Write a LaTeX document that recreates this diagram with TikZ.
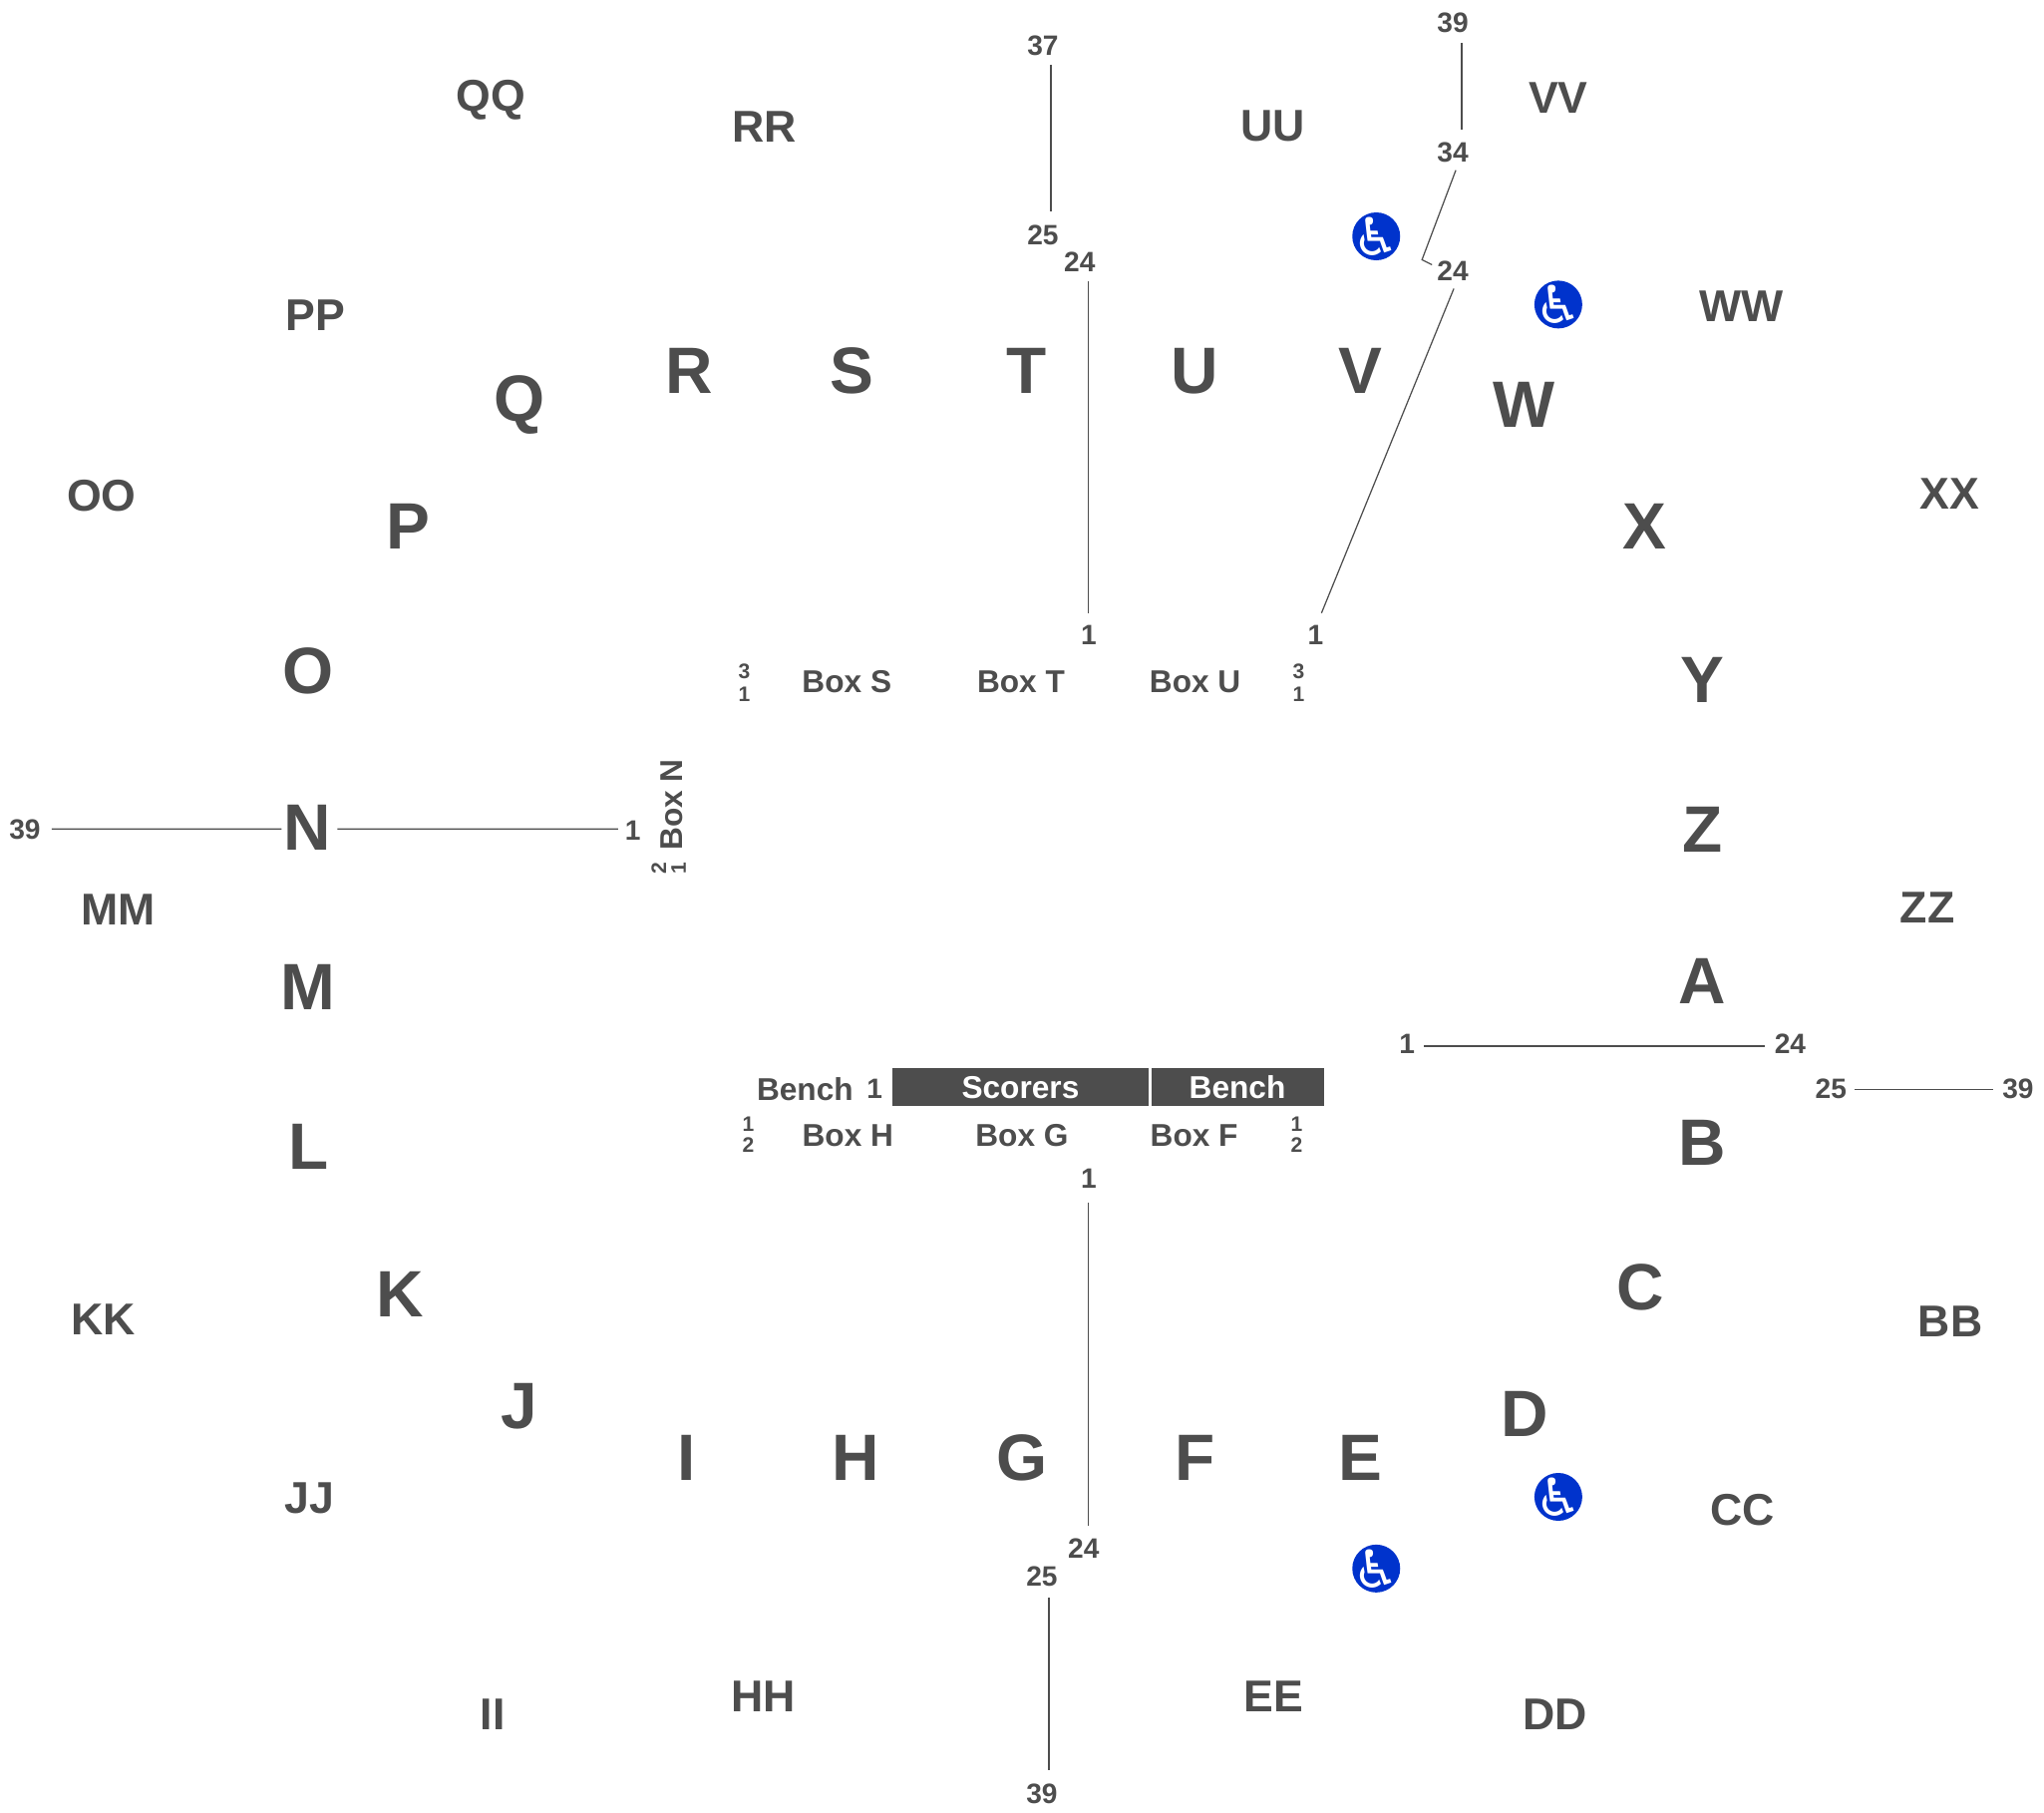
\documentclass[tikz,border=0pt]{standalone}
\usepackage{fontspec}
\setmainfont{Liberation Sans}
\newfontfamily\wheelfont{DejaVu Sans}
\definecolor{seatgrey}{HTML}{4D4D4D}
\definecolor{accessblue}{HTML}{0033CC}
\usetikzlibrary{calc}

\begin{document}
\begin{tikzpicture}[x=0.00998cm, y=-0.00998cm, every node/.style={inner sep=0pt, text=seatgrey, font=\bfseries},
    lower/.style={xshift=0.3pt, yshift=0.6pt, font=\fontsize{18.7}{19}\selectfont\bfseries},
    upper/.style={font=\fontsize{12.7}{13}\selectfont\bfseries},
    boxname/.style={font=\fontsize{9}{9}\selectfont\bfseries},
    rownum/.style={font=\fontsize{8}{8}\selectfont\bfseries},
    boxnum/.style={font=\fontsize{6}{6}\selectfont\bfseries},
    tablebar/.style={fill=seatgrey, text=white, font=\fontsize{9}{9}\selectfont\bfseries, anchor=center},
    rowline/.style={draw=seatgrey, line width=0.35pt}]

\useasboundingbox (0,0) rectangle (2054.1,1821.6);

%access marker
\newcommand{\accessmarker}[3]{
        \node[circle, fill=accessblue, minimum size=48*0.2845pt] (#1) at (#2,#3) {};
        \node[text=white, font=\fontsize{15}{15}\selectfont\wheelfont] at (#1) {\char"267F};
}

%lower bowl
\node[lower] (R) at (692,375) {R};
\node[lower] (S) at (855,375) {S};
\node[lower] (T) at (1031,375) {T};
\node[lower] (U) at (1200,375) {U};
\node[lower] (V) at (1366,375) {V};
\node[lower] (W) at (1530,409) {W};
\node[lower] (X) at (1652,531) {X};
\node[lower] (Y) at (1710,685) {Y};
\node[lower] (Z) at (1710,836) {Z};
\node[lower] (A) at (1710,988) {A};
\node[lower] (B) at (1710,1150) {B};
\node[lower] (C) at (1647,1296) {C};
\node[lower] (D) at (1531,1423) {D};
\node[lower] (E) at (1366,1467) {E};
\node[lower] (F) at (1200,1467) {F};
\node[lower] (G) at (1026,1467) {G};
\node[lower] (H) at (859,1467) {H};
\node[lower] (I) at (689,1467) {I};
\node[lower] (J) at (521,1415) {J};
\node[lower] (K) at (401,1303) {K};
\node[lower] (L) at (309,1154) {L};
\node[lower] (M) at (308,994) {M};
\node[lower] (N) at (308,834) {N};
\node[lower] (O) at (309,676) {O};
\node[lower] (P) at (409,531) {P};
\node[lower] (Q) at (521,409) {Q};

%upper bowl
\node[upper] (QQ) at (493,101) {QQ};
\node[upper] (RR) at (768,127) {RR};
\node[upper] (UU) at (1279,127) {UU};
\node[upper] (VV) at (1566,98) {VV};
\node[upper] (WW) at (1750,308) {WW};
\node[upper] (XX) at (1959,496) {XX};
\node[upper] (ZZ) at (1937,912) {ZZ};
\node[upper] (BB) at (1960,1328) {BB};
\node[upper] (CC) at (1751,1517) {CC};
\node[upper] (DD) at (1563,1723) {DD};
\node[upper] (EE) at (1280,1705) {EE};
\node[upper] (HH) at (767,1705) {HH};
\node[upper] (II) at (495,1723) {II};
\node[upper] (JJ) at (311,1505) {JJ};
\node[upper] (KK) at (104,1326) {KK};
\node[upper] (MM) at (119,914) {MM};
\node[upper] (OO) at (102,498) {OO};
\node[upper] (PP) at (317,317) {PP};

%boxes
\node[boxname] (boxS) at (851,685) {Box S};
\node[boxname] (boxT) at (1026,685) {Box T};
\node[boxname] (boxU) at (1201,685) {Box U};
\node[boxname] (boxH) at (852,1141) {Box H};
\node[boxname] (boxG) at (1027,1141) {Box G};
\node[boxname] (boxF) at (1200,1141) {Box F};
\node[boxname, rotate=90] (boxN) at (675,808.5) {Box N};
\node[boxname] (benchH) at (809,1094) {Bench};
\node[tablebar, minimum width=257*0.2845pt, minimum height=38*0.2845pt] (scorers) at (1025.5,1092.5) {Scorers};
\node[tablebar, minimum width=173*0.2845pt, minimum height=38*0.2845pt] (benchF) at (1243.5,1092.5) {Bench};

%box rows
\node[boxnum] (boxSa) at (748,675) {3};
\node[boxnum] (boxSb) at (748,698) {1};
\node[boxnum] (boxUa) at (1305,675) {3};
\node[boxnum] (boxUb) at (1305,698) {1};
\node[boxnum] (boxHa) at (752,1129) {1};
\node[boxnum] (boxHb) at (752,1150) {2};
\node[boxnum] (boxFa) at (1303,1129) {1};
\node[boxnum] (boxFb) at (1303,1150) {2};
\node[boxnum, rotate=90] (boxNa) at (662,872) {2};
\node[boxnum, rotate=90] (boxNb) at (682,872) {1};
\node[rownum] (benchOne) at (879,1094) {1};

%row numbers
\node[rownum] (t37) at (1048,46) {37};
\node[rownum] (t25) at (1048,236) {25};
\node[rownum] (t24) at (1085,263) {24};
\node[rownum] (t1) at (1094,638) {1};
\node[rownum] (v1) at (1322,638) {1};
\node[rownum] (v39) at (1460,23) {39};
\node[rownum] (v34) at (1460,153) {34};
\node[rownum] (v24) at (1460,272) {24};
\node[rownum] (n39) at (25,834) {39};
\node[rownum] (n1) at (636,834) {1};
\node[rownum] (a1) at (1414,1049) {1};
\node[rownum] (a24) at (1799,1049) {24};
\node[rownum] (a25) at (1840,1094) {25};
\node[rownum] (a39) at (2028,1094) {39};
\node[rownum] (g1) at (1094,1184) {1};
\node[rownum] (g24) at (1089,1556) {24};
\node[rownum] (g25) at (1047,1584) {25};
\node[rownum] (g39) at (1047,1802) {39};
\coordinate (vbend) at (1429,261);

%row lines
\draw[rowline] ([shift={(8,19)}]t37.center) -- ([shift={(8,-24)}]t25.center);
\draw[rowline] ([shift={(9,20)}]t24.center) -- ([shift={(0,-22)}]t1.center);
\draw[rowline] ([shift={(9,20)}]v39.center) -- ([shift={(9,-23)}]v34.center);
\draw[rowline] ([shift={(3,18)}]v34.center) -- (vbend) -- ([shift={(-21,-6)}]v24.center);
\draw[rowline] ([shift={(1,18)}]v24.center) -- ([shift={(6,-22)}]v1.center);
\draw[rowline] ([shift={(27,-1)}]n39.center) -- ([shift={(-26,1)}]N.center);
\draw[rowline] ([shift={(30,1)}]N.center) -- ([shift={(-15,-1)}]n1.center);
\draw[rowline] ([shift={(17,2)}]a1.center) -- ([shift={(-25,2)}]a24.center);
\draw[rowline] ([shift={(24,1)}]a25.center) -- ([shift={(-25,1)}]a39.center);
\draw[rowline] ([shift={(0,24)}]g1.center) -- ([shift={(5,-23)}]g24.center);
\draw[rowline] ([shift={(7,21)}]g25.center) -- ([shift={(7,-23)}]g39.center);

%access places
\accessmarker{wcV}{1383}{237.5}
\accessmarker{wcW}{1566}{306}
\accessmarker{wcD}{1566}{1504}
\accessmarker{wcE}{1383}{1576}

\end{tikzpicture}
\end{document}
